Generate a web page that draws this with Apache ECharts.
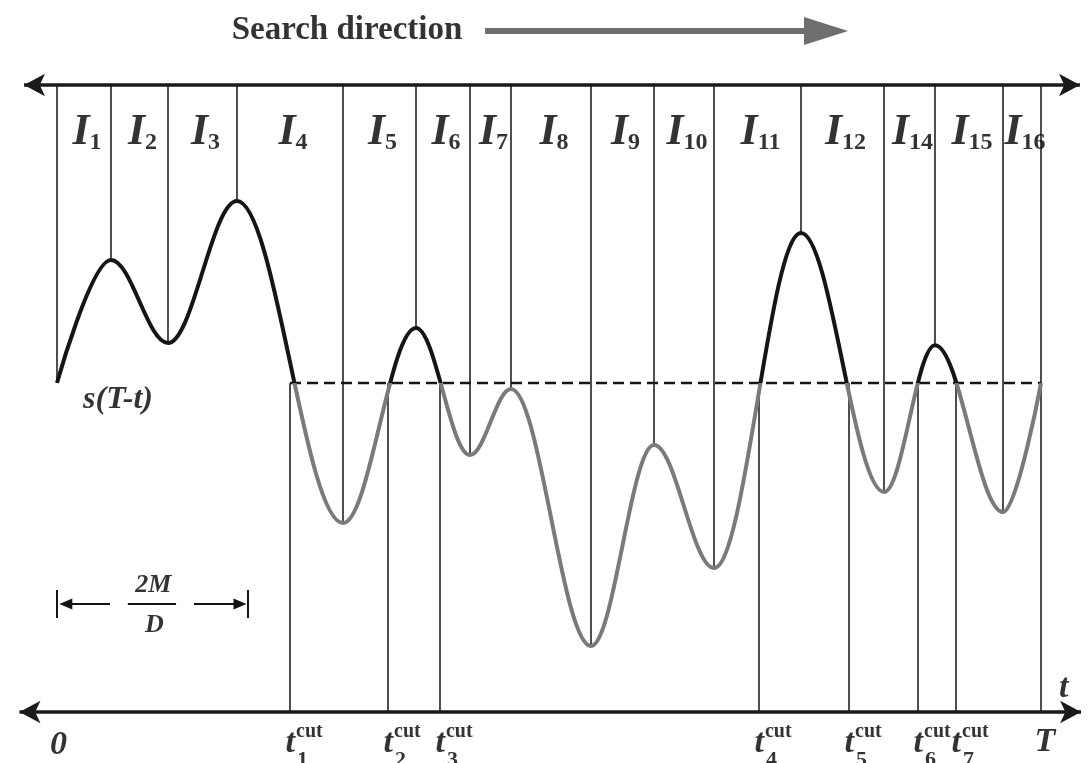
<!DOCTYPE html>
<html>
<head>
<meta charset="utf-8">
<script src="https://cdn.jsdelivr.net/npm/echarts@6/dist/echarts.min.js"></script>
<style>
html,body{margin:0;padding:0;background:#ffffff;}
#chart{width:1092px;height:763px;}
</style>
</head>
<body>
<div id="chart"></div>
<script>
// ---- data (t runs 0..T with T = 100, s runs 0 at bottom axis .. 100 at top axis) ----
const extremaT = [0, 5.49, 11.28, 18.29, 29.07, 36.48, 41.97, 46.14, 54.27, 60.67, 66.77, 75.61, 84.05, 89.23, 96.14, 100];
const extremaS = [52.47, 72.09, 58.85, 81.5, 30.14, 61.24, 40.99, 51.5, 10.53, 42.58, 22.97, 76.4, 35.09, 58.5, 31.9, 52.47];
const intervalNames = ['1', '2', '3', '4', '5', '6', '7', '8', '9', '10', '11', '12', '14', '15', '16'];
const cutT = [23.68, 33.64, 38.92, 71.34, 80.49, 87.5, 91.36];
const cutNames = ['1', '2', '3', '4', '5', '6', '7'];
const threshold = 52.47;
const tEnd = 100;
const sTop = 100;
const sBottom = 0;
const dimSpan = [0, 19.41];
const dimLevel = 17.22;

// ---- layout helpers ----
const F = "'Liberation Serif','Times New Roman',serif";
const view = { xMin: -5.79, xMax: 105.18, yMin: -8.13, yMax: 113.56 };
const INK = '#000000';
const GRAY = '#7a7a7a';

function txt(x, y, label) {
  return { value: [x, y], label: Object.assign({ show: true, position: 'inside', color: INK, fontFamily: F, textBorderWidth: 0 }, label) };
}

const texts = [];
intervalNames.forEach(function (n, i) {
  const xc = (extremaT[i] + extremaT[i + 1]) / 2;
  texts.push(txt(xc, 92.42, {
    formatter: '{i|I}{s|' + n + '}',
    offset: [3, 0],
    rich: {
      i: { fontFamily: F, fontSize: 44, fontStyle: 'italic', fontWeight: 'bold', color: INK, lineHeight: 44, textBorderWidth: 0 },
      s: { fontFamily: F, fontSize: 24, fontWeight: 'bold', color: INK, lineHeight: 24, verticalAlign: 'bottom', textBorderWidth: 0 }
    }
  }));
});
cutT.forEach(function (c, k) {
  texts.push(txt(c, -4.94, { formatter: 't', align: 'right', offset: [5, 0], fontSize: 34, fontStyle: 'italic', fontWeight: 'bold' }));
  texts.push(txt(c, -3.2, { formatter: 'cut', align: 'left', offset: [6, 0], fontSize: 20, fontWeight: 'bold' }));
  texts.push(txt(c, -7.66, { formatter: cutNames[k], align: 'left', offset: [7, 0], fontSize: 22, fontWeight: 'bold' }));
});
texts.push(txt(0.15, -5.26, { formatter: '0', fontSize: 34, fontStyle: 'italic', fontWeight: 'bold' }));
texts.push(txt(100.4, -4.78, { formatter: 'T', fontSize: 34, fontStyle: 'italic', fontWeight: 'bold' }));
texts.push(txt(102.3, 3.83, { formatter: 't', fontSize: 34, fontStyle: 'italic', fontWeight: 'bold' }));
texts.push(txt(6.2, 49.76, { formatter: 's(T-t)', fontSize: 32, fontStyle: 'italic', fontWeight: 'bold' }));
texts.push(txt(9.8, 20.25, { formatter: '2M', fontSize: 26, fontStyle: 'italic', fontWeight: 'bold' }));
texts.push(txt(9.9, 13.9, { formatter: 'D', fontSize: 26, fontStyle: 'italic', fontWeight: 'bold' }));
texts.push(txt(29.47, 108.77, { formatter: 'Search direction', fontSize: 33, fontWeight: 'bold' }));

const vLines = extremaT.map(function (t, i) {
  const end = (i === extremaT.length - 1) ? sBottom : extremaS[i];
  return { coords: [[t, sTop], [t, end]] };
}).concat(cutT.map(function (c) {
  return { coords: [[c, threshold], [c, sBottom]] };
}));

const curve = extremaT.map(function (t, i) { return [t, extremaS[i]]; });

const option = {
  animation: false,
  backgroundColor: '#ffffff',
  grid: { left: 0, right: 0, top: 0, bottom: 0 },
  xAxis: { type: 'value', min: view.xMin, max: view.xMax, show: false },
  yAxis: { type: 'value', min: view.yMin, max: view.yMax, show: false },
  series: [
    {
      id: 'curve', type: 'line', data: curve, smooth: 0.36, smoothMonotone: 'x',
      showSymbol: false, symbol: 'none', z: 4, silent: true,
      lineStyle: { width: 4, color: '#151515' }
    },
    {
      type: 'lines', coordinateSystem: 'cartesian2d', z: 2, silent: true,
      data: vLines, lineStyle: { color: '#222222', width: 1.6, opacity: 1, curveness: 0 }
    },
    {
      type: 'lines', coordinateSystem: 'cartesian2d', z: 3, silent: true,
      data: [{ coords: [[cutT[0], threshold], [tEnd, threshold]] }],
      lineStyle: { color: '#151515', width: 2.4, type: [11, 6], opacity: 1, curveness: 0 }
    },
    {
      type: 'lines', coordinateSystem: 'cartesian2d', z: 3, silent: true,
      symbol: ['arrow', 'arrow'], symbolSize: [[17, 21], [17, 21]],
      data: [
        { coords: [[-3.35, sTop], [103.96, sTop]] },
        { coords: [[-3.81, sBottom], [104.07, sBottom]] }
      ],
      lineStyle: { color: '#1a1a1a', width: 3.5, opacity: 1, curveness: 0 }
    },
    {
      type: 'lines', coordinateSystem: 'cartesian2d', z: 3, silent: true,
      symbol: ['none', 'triangle'], symbolSize: [[1, 1], [28, 44]],
      data: [{ coords: [[43.5, 108.6], [78.15, 108.6]] }],
      lineStyle: { color: '#6e6e6e', width: 6, opacity: 1, curveness: 0 }
    },
    {
      type: 'lines', coordinateSystem: 'cartesian2d', z: 3, silent: true,
      symbol: ['none', 'triangle'], symbolSize: [[1, 1], [11, 13]],
      data: [
        { coords: [[5.39, dimLevel], [0.9, dimLevel]] },
        { coords: [[13.92, dimLevel], [18.6, dimLevel]] }
      ],
      lineStyle: { color: '#151515', width: 2, opacity: 1, curveness: 0 }
    },
    {
      type: 'lines', coordinateSystem: 'cartesian2d', z: 3, silent: true,
      data: [
        { coords: [[dimSpan[0], 19.46], [dimSpan[0], 15.0]] },
        { coords: [[dimSpan[1], 19.46], [dimSpan[1], 15.0]] },
        { coords: [[7.2, dimLevel], [12.1, dimLevel]] }
      ],
      lineStyle: { color: '#151515', width: 2, opacity: 1, curveness: 0 }
    },
    {
      type: 'scatter', data: texts, symbolSize: 1, z: 10, silent: true,
      itemStyle: { color: 'rgba(0,0,0,0)' },
      label: { show: true, position: 'inside', color: INK, fontFamily: F, textBorderWidth: 0 },
      emphasis: { disabled: true }
    }
  ]
};

const chart = echarts.init(document.getElementById('chart'), null, { renderer: 'canvas' });
chart.setOption(option);
// colour the curve black above the threshold and grey below it (hard stop at the threshold's pixel row)
const py = chart.convertToPixel({ gridIndex: 0 }, [0, threshold])[1];
const H = chart.getHeight();
const f = py / H;
chart.setOption({
  series: [{
    id: 'curve',
    lineStyle: {
      color: new echarts.graphic.LinearGradient(0, 0, 0, H, [
        { offset: 0, color: '#151515' }, { offset: f, color: '#151515' },
        { offset: f, color: GRAY }, { offset: 1, color: GRAY }
      ], true)
    }
  }]
});
</script>
</body>
</html>
